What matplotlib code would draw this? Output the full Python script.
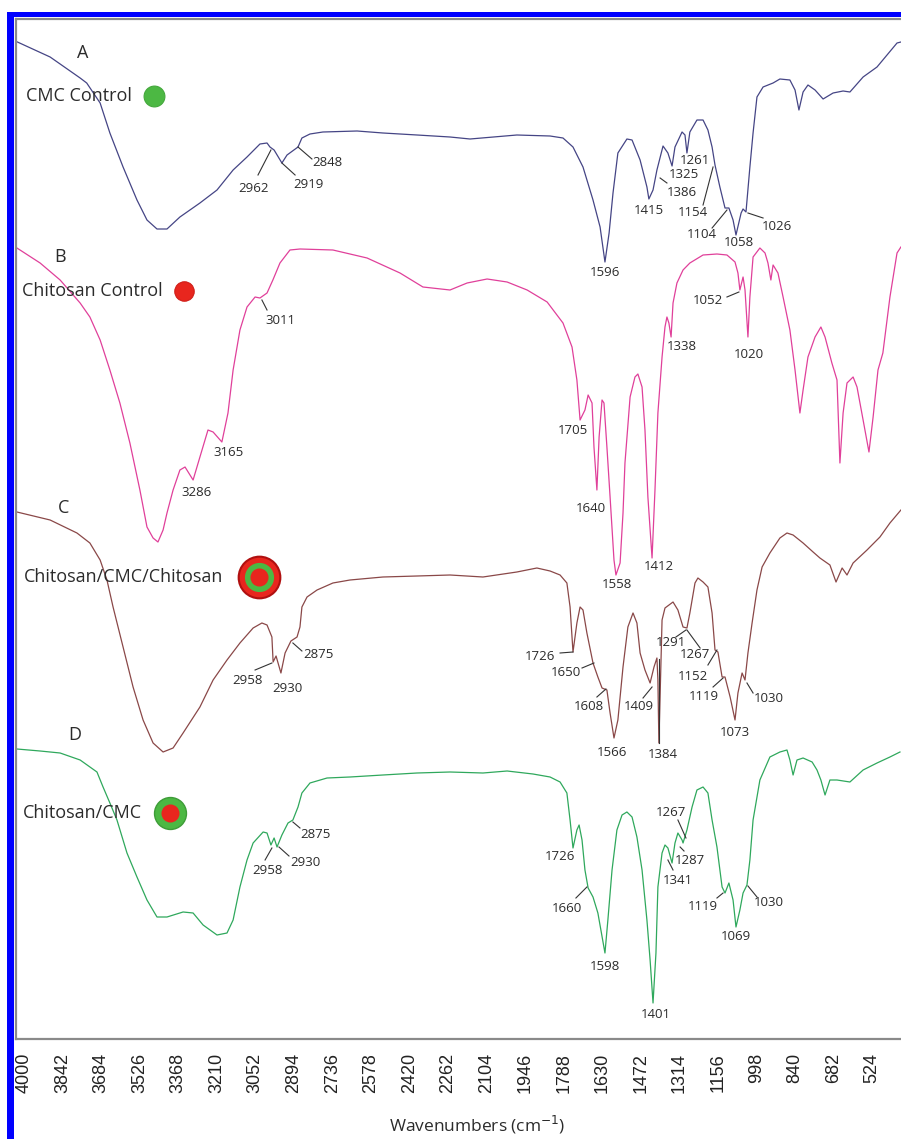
import matplotlib
matplotlib.use("Agg")
import matplotlib.pyplot as plt
from matplotlib.patches import Rectangle

# ---------------- data (wavenumber cm^-1, intensity a.u., stacked) ----------------
wn_A = [4027,3893,3770,3743,3688,3648,3594,3537,3496,3455,3414,3361,3279,3209,3143,3086,3033,3004,2992,2975,
        2943,2922,2877,2861,2828,2775,2635,2529,2389,2254,2172,1980,1844,1791,1750,1709,1668,1639,1619,1602,
        1586,1566,1529,1508,1475,1447,1439,1422,1406,1381,1361,1344,1332,1303,1291,1283,1271,1242,1217,1197,
        1180,1168,1148,1127,1111,1094,1082,1061,1053,1041,1025,1012,996,971,930,902,861,840,824,807,
        787,758,725,684,643,615,561,504,463,422,406]
int_A = [997,982,961,956,936,906,872,839,819,810,810,822,836,849,869,882,895,896,892,889,
         876,884,892,901,905,907,908,906,904,902,900,904,903,901,892,872,839,812,777,806,
         846,886,900,899,879,852,840,849,869,893,886,873,892,907,904,886,907,919,919,909,
         892,874,852,831,831,819,804,826,830,827,872,906,942,952,956,960,959,949,929,947,
         954,949,940,946,948,947,962,972,984,996,997]

wn_B = [4029,3934,3852,3770,3730,3688,3648,3607,3566,3525,3496,3471,3451,3430,3414,3389,3361,3340,3307,3279,
        3246,3225,3189,3164,3143,3115,3086,3053,3033,3004,2980,2951,2910,2869,2734,2594,2459,2365,2254,2184,
        2102,2020,1938,1856,1791,1754,1734,1721,1701,1688,1672,1664,1652,1643,1631,1623,1611,1598,1582,1574,
        1557,1545,1537,1516,1496,1484,1467,1455,1443,1426,1414,1402,1385,1373,1365,1357,1348,1340,1324,1299,
        1271,1217,1160,1119,1086,1074,1066,1053,1045,1033,1025,1012,984,963,951,939,930,910,889,861,
        840,820,807,787,758,734,717,689,668,656,643,627,602,586,561,537,520,500,480,451,
        422,406]
int_B = [791,776,759,736,722,699,669,636,596,549,512,501,497,509,526,549,569,572,559,582,
         609,607,597,626,669,709,732,742,741,746,759,776,789,790,789,781,766,752,749,756,
         760,757,749,737,716,692,659,619,629,644,636,592,549,602,639,636,592,542,479,464,
         476,526,576,642,662,665,652,609,542,481,549,626,682,712,722,716,702,736,756,769,
         776,784,785,784,777,766,749,762,749,702,742,782,791,786,776,759,774,766,742,709,
         669,626,649,682,702,712,702,676,659,576,626,656,662,652,619,587,622,669,686,742,
         786,792]

wn_C = [4029,3893,3783,3730,3688,3660,3635,3594,3553,3512,3471,3430,3389,3348,3279,3225,3168,3115,3061,3025,
        3004,2984,2979,2967,2947,2930,2906,2881,2869,2861,2840,2799,2734,2664,2529,2389,2254,2119,1980,1898,
        1844,1803,1775,1762,1750,1734,1721,1709,1693,1668,1648,1631,1611,1598,1582,1566,1545,1525,1504,1488,
        1475,1455,1434,1418,1406,1402,1398,1385,1373,1340,1320,1299,1283,1271,1250,1238,1217,1197,1180,1168,
        1156,1139,1127,1106,1086,1074,1057,1045,1033,1016,996,975,943,902,873,848,807,766,738,697,
        672,647,627,602,545,492,451,406]
int_C = [527,519,506,496,479,459,432,392,352,319,296,287,291,306,332,359,379,396,411,416,
         414,402,377,383,366,386,398,402,412,432,442,449,456,459,462,463,464,462,467,471,
         468,464,456,432,387,416,432,429,406,376,362,351,349,326,301,319,372,412,426,416,
         386,369,356,372,381,359,296,419,431,437,429,412,411,426,456,461,457,452,426,389,
         387,362,362,342,319,346,366,359,386,416,449,472,486,501,506,504,496,487,481,474,
         457,471,464,476,489,502,516,529]

wn_D = [4029,3934,3852,3770,3701,3676,3648,3619,3578,3537,3496,3455,3414,3348,3307,3266,3209,3168,3143,3115,
        3086,3061,3020,3004,2988,2975,2963,2943,2918,2898,2877,2861,2828,2758,2664,2529,2389,2254,2119,2020,
        1914,1844,1803,1775,1762,1750,1734,1725,1713,1701,1688,1668,1648,1619,1607,1590,1570,1549,1529,1508,
        1488,1467,1447,1434,1422,1410,1402,1385,1373,1361,1344,1332,1320,1303,1299,1283,1262,1242,1217,1197,
        1180,1160,1139,1127,1111,1094,1082,1066,1053,1037,1025,1012,984,943,902,873,861,848,832,807,
        770,750,734,717,697,668,615,561,504,451,410]
int_D = [290,288,286,279,267,252,236,219,186,162,139,122,122,127,126,114,104,106,119,152,
         179,196,207,206,194,201,192,204,216,219,232,246,256,261,262,264,266,267,266,268,
         265,262,257,246,219,191,209,214,199,169,151,142,126,86,119,169,209,224,227,222,
         202,169,119,79,36,86,152,186,194,191,176,196,206,199,196,209,232,249,252,246,
         219,192,152,146,156,139,112,129,146,154,179,219,259,282,287,289,279,264,279,281,
         277,269,259,244,259,259,257,269,276,282,287]

tick_values = [4000 - 158 * k for k in range(23)]
tick_labels = [str(v) for v in tick_values]

sample_letters = ["A", "B", "C", "D"]
sample_names = ["CMC Control", "Chitosan Control", "Chitosan/CMC/Chitosan", "Chitosan/CMC"]

# peak annotations: (label, line start, line end, text position) in data units
ann_A = [("2962", (3041, 864), (2988, 889), (3061, 850)),
         ("2919", (2889, 864), (2943, 876), (2832, 854)),
         ("2848", (2877, 892), (2820, 880), (2758, 876)),
         ("1596", None, None, (1619, 766)),
         ("1415", None, None, (1439, 829)),
         ("1386", (1393, 861), (1365, 856), (1303, 847)),
         ("1325", None, None, (1295, 864)),
         ("1261", None, None, (1250, 878)),
         ("1154", (1217, 834), (1176, 872), (1258, 826)),
         ("1104", (1180, 811), (1119, 829), (1221, 804)),
         ("1058", None, None, (1070, 796)),
         ("1026", (1033, 826), (971, 821), (914, 813))]
ann_B = [("3011", (3025, 739), (3004, 729), (2951, 718)),
         ("3165", None, None, (3160, 586)),
         ("3286", None, None, (3291, 547)),
         ("1705", None, None, (1750, 609)),
         ("1640", None, None, (1676, 530)),
         ("1558", None, None, (1570, 455)),
         ("1412", None, None, (1398, 472)),
         ("1338", None, None, (1303, 693)),
         ("1052", (1119, 742), (1070, 747), (1197, 739)),
         ("1020", None, None, (1029, 684))]
ann_C = [("2958", (3053, 369), (2984, 376), (3082, 359)),
         ("2930", None, None, (2922, 351)),
         ("2875", (2898, 396), (2861, 388), (2795, 385)),
         ("1726", (1803, 386), (1750, 387), (1885, 383)),
         ("1650", (1713, 371), (1664, 376), (1779, 366)),
         ("1608", (1652, 342), (1615, 350), (1684, 333)),
         ("1566", None, None, (1590, 287)),
         ("1409", (1463, 341), (1426, 352), (1480, 333)),
         ("1384", (1398, 380), (1398, 296), (1380, 285)),
         ("1291", (1328, 402), (1287, 409), (1348, 396)),
         ("1267", (1283, 409), (1229, 391), (1250, 385)),
         ("1152", (1197, 374), (1160, 389), (1258, 363)),
         ("1119", (1176, 352), (1135, 361), (1213, 342)),
         ("1073", None, None, (1086, 306)),
         ("1030", (1037, 356), (1012, 346), (947, 340))]
ann_D = [("2958", (3012, 179), (2984, 191), (3004, 169)),
         ("2930", (2955, 192), (2914, 183), (2848, 177)),
         ("2875", (2898, 217), (2869, 211), (2807, 205)),
         ("1726", None, None, (1803, 182)),
         ("1660", (1738, 141), (1693, 152), (1775, 130)),
         ("1598", None, None, (1619, 72)),
         ("1401", None, None, (1410, 24)),
         ("1341", (1361, 179), (1340, 169), (1320, 159)),
         ("1287", (1311, 192), (1295, 188), (1271, 179)),
         ("1267", (1320, 219), (1287, 201), (1348, 226)),
         ("1119", (1160, 141), (1135, 146), (1217, 132)),
         ("1069", None, None, (1082, 102)),
         ("1030", (1033, 153), (996, 142), (947, 137))]

# ---------------- figure ----------------
W, H = 901, 1139
fig = plt.figure(figsize=(W / 100, H / 100), dpi=100)
fig.patch.set_facecolor("white")

ax = fig.add_axes([16 / W, 1 - 1039 / H, 889 / W, 1020 / H])
ax.set_xlim(4032.8, 389.3)
ax.set_ylim(0, 1020)

colors = {"A": "#454585", "B": "#e0409a", "C": "#8a4848", "D": "#2fa85c"}
ax.plot(wn_A, int_A, color=colors["A"], lw=0.9)
ax.plot(wn_B, int_B, color=colors["B"], lw=0.9)
ax.plot(wn_C, int_C, color=colors["C"], lw=0.9)
ax.plot(wn_D, int_D, color=colors["D"], lw=0.9)

txt_col = "#2b2b2b"
pfont = dict(family=["Open Sans", "DejaVu Sans"], fontsize=9.5, color=txt_col)
for ann in (ann_A, ann_B, ann_C, ann_D):
    for lab, p0, p1, pt in ann:
        if p0 is not None:
            ax.plot([p0[0], p1[0]], [p0[1], p1[1]], color="#333333", lw=0.8)
        ax.text(pt[0], pt[1], lab, ha="center", va="center", **pfont)

lfont = dict(family=["Open Sans", "DejaVu Sans"], color=txt_col)
letter_pos = [(3758, 986), (3852, 782), (3836, 531), (3791, 304)]
name_pos = [(3992, 943), (4008, 748), (4000, 462), (4004, 226)]
for L, (x, y) in zip(sample_letters, letter_pos):
    ax.text(x, y, L, ha="center", va="center", fontsize=13, **lfont)
for N, (x, y) in zip(sample_names, name_pos):
    ax.text(x, y, N, ha="left", va="center", fontsize=13, **lfont)

green = "#4cb843"
red = "#e8261e"
ax.plot([3467], [943], "o", ms=15, color=green, mec="#44a83c", mew=0.8)
ax.plot([3344], [748], "o", ms=14, color=red, mec="#d01e18", mew=0.8)
ax.plot([3037], [462], "o", ms=30, color=red, mec="#b01010", mew=1.5)
ax.plot([3037], [462], "o", ms=21, color=green, mec=green, mew=0)
ax.plot([3037], [462], "o", ms=13, color=red, mec=red, mew=0)
ax.plot([3402], [226], "o", ms=23, color=green, mec="#3e9c38", mew=1.0)
ax.plot([3402], [226], "o", ms=13, color=red, mec=red, mew=0)

ax.set_xticks(tick_values)
ax.set_xticklabels(tick_labels, rotation=90, family=["Liberation Sans", "DejaVu Sans"],
                   fontsize=13, color="#222222")
ax.tick_params(axis="x", length=0, pad=10)
ax.set_yticks([])
for s in ax.spines.values():
    s.set_color("#8a8a8a")
    s.set_linewidth(1.6)

fig.text(477 / W, 1 - 1125 / H, "Wavenumbers (cm$^{-1}$)", ha="center", va="center",
         fontsize=12.5, family=["Open Sans", "DejaVu Sans"], color=txt_col)

# blue outer frame
fig.add_artist(Rectangle((7 / W, 1 - 17 / H), (W - 7) / W, 5 / H, transform=fig.transFigure,
                         color="#0000ff", lw=0))
fig.add_artist(Rectangle((7 / W, 0), 7 / W, 1 - 12 / H, transform=fig.transFigure,
                         color="#0000ff", lw=0))

fig.savefig("out.png", dpi=100)
